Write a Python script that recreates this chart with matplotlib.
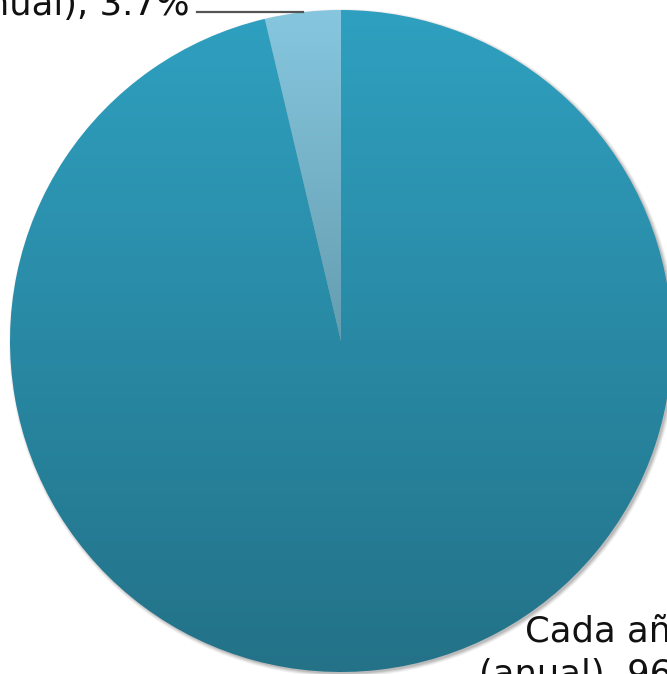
import numpy as np
import matplotlib
matplotlib.use("Agg")
import matplotlib.pyplot as plt
from matplotlib.patches import Circle
from matplotlib.colors import to_rgb

# Survey shares: how often the activity is done
labels = ["Cada dos años\n(bianual), 3.7%", "Cada año\n(anual), 96.3%"]
values = [3.7, 96.3]

# Vertical gradients per wedge (top colour, bottom colour)
wedge_top = ["#86c7df", "#2fa0c0"]
wedge_bottom = ["#659db0", "#237288"]

W, H = 667, 674
fig = plt.figure(figsize=(W / 100, H / 100), dpi=100)
ax = fig.add_axes([0, 0, 1, 1])
ax.set_xlim(0, W)
ax.set_ylim(0, H)
ax.set_aspect("equal")
ax.axis("off")

cx, cy_px, R = 341, 341, 331
cy = H - cy_px

# soft drop shadow at lower right
for extra, a in [(3, 0.05), (2, 0.06), (1, 0.08), (0, 0.10)]:
    ax.add_patch(Circle((cx + 2, cy - 2), R + extra, color="black",
                        alpha=a, lw=0, zorder=1))

wedges, _ = ax.pie(values, startangle=90, counterclock=True,
                   center=(cx, cy), radius=R, frame=True,
                   wedgeprops=dict(linewidth=0))
ax.set_xlim(0, W)
ax.set_ylim(0, H)
ax.axis("off")


def vgrad(top, bottom, n=256):
    t = np.linspace(0, 1, n)[:, None]
    return (1 - t) * np.array(to_rgb(bottom)) + t * np.array(to_rgb(top))


for w, top, bot in zip(wedges, wedge_top, wedge_bottom):
    w.set_facecolor("none")
    w.set_zorder(3)
    bb = w.get_path().get_extents(w.get_patch_transform())
    img = vgrad(top, bot)[:, None, :]
    im = ax.imshow(img, origin="lower", aspect="auto",
                   extent=(bb.x0, bb.x1, bb.y0, bb.y1), zorder=2,
                   interpolation="bilinear")
    im.set_clip_path(w)

ax.set_xlim(0, W)
ax.set_ylim(0, H)

# label of the small wedge with a horizontal leader line
w0 = wedges[0]
mid = np.deg2rad((w0.theta1 + w0.theta2) / 2)
ex, ey = cx + R * np.cos(mid), cy + R * np.sin(mid)
tx = 190
ax.plot([tx + 7, ex], [ey, ey], color="#555555", lw=1.6, zorder=4)
ax.text(tx, H - 15, labels[0], ha="right", va="baseline",
        multialignment="center", fontsize=25.5, color="#111111",
        family="DejaVu Sans", linespacing=1.35, zorder=5)

# label of the large wedge
ax.text(609, H - 615, labels[1], ha="center", va="top",
        multialignment="center", fontsize=25.5, color="#111111",
        family="DejaVu Sans", linespacing=1.35, zorder=5)

fig.savefig("out.png", dpi=100)
